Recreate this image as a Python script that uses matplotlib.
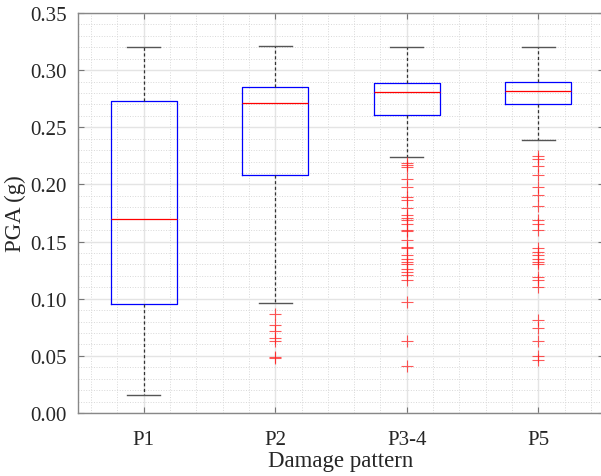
import numpy as np
import matplotlib.pyplot as plt
from matplotlib.ticker import MultipleLocator

plt.rcParams['font.family'] = ['Liberation Serif', 'DejaVu Serif']

# damage patterns and box statistics for PGA (g)
patterns = ['P1', 'P2', 'P3-4', 'P5']
whis_lo = [0.016, 0.096, 0.224, 0.239]
q1 = [0.095, 0.208, 0.261, 0.270]
med = [0.170, 0.271, 0.281, 0.282]
q3 = [0.273, 0.285, 0.289, 0.290]
whis_hi = [0.320, 0.321, 0.320, 0.320]

# outliers per pattern
fl_p1 = []
fl_p2 = [0.087, 0.077, 0.072, 0.066, 0.063, 0.049, 0.048]
fl_p34 = [0.219, 0.217, 0.215, 0.205, 0.198, 0.189, 0.186, 0.179, 0.173,
          0.171, 0.169, 0.165, 0.160, 0.159, 0.151, 0.145, 0.144, 0.138,
          0.135, 0.132, 0.130, 0.126, 0.123, 0.121, 0.116, 0.097, 0.063,
          0.041]
fl_p5 = [0.225, 0.222, 0.216, 0.208, 0.198, 0.191, 0.181, 0.169, 0.165,
         0.160, 0.144, 0.141, 0.138, 0.135, 0.132, 0.130, 0.119, 0.116,
         0.110, 0.081, 0.074, 0.063, 0.050, 0.046]
fliers = [fl_p1, fl_p2, fl_p34, fl_p5]

stats = []
for i in range(len(patterns)):
    stats.append(dict(med=med[i], q1=q1[i], q3=q3[i], whislo=whis_lo[i],
                      whishi=whis_hi[i], fliers=np.array(fliers[i]),
                      label=patterns[i]))

fig = plt.figure(figsize=(6.01, 4.77), dpi=100)
ax = fig.add_axes([78/601, 63/477, 526/601, 400/477])

ax.bxp(stats, positions=[1, 2, 3, 4], widths=0.5, showfliers=True,
       boxprops=dict(color='#0000ff', lw=0.9),
       medianprops=dict(color='#ff0000', lw=0.9),
       whiskerprops=dict(color='#333333', lw=0.9, ls=(0, (2.5, 2))),
       capprops=dict(color='#555555', lw=1.0),
       capwidths=0.25,
       flierprops=dict(marker='+', markeredgecolor='#ff2020', markersize=9,
                       markeredgewidth=0.8, alpha=0.75))

ax.set_xlim(0.5, 4.5)
ax.set_ylim(0, 0.35)
ax.yaxis.set_major_locator(MultipleLocator(0.05))
ax.yaxis.set_minor_locator(MultipleLocator(0.01))
ax.xaxis.set_minor_locator(MultipleLocator(0.2))
ax.set_yticklabels(['%.2f' % v for v in ax.get_yticks()])

ax.grid(True, which='major', color='#e4e4e4', lw=1.0)
ax.grid(True, which='minor', color='#d8d8d8', lw=0.7, ls=':')
ax.set_axisbelow(True)

ax.tick_params(which='major', direction='in', length=4, width=0.8,
               color='#777777', labelsize=15, labelcolor='#262626',
               top=True, right=True)
ax.tick_params(axis='x', pad=12)
ax.tick_params(axis='y', pad=8)
ax.tick_params(which='minor', length=0)
for s in ax.spines.values():
    s.set_color('#888888')
    s.set_linewidth(1.0)

ax.set_xlabel('Damage pattern', fontsize=16.5, color='#262626', labelpad=1)
ax.set_ylabel('PGA (g)', fontsize=16.5, color='#262626', labelpad=3)

fig.savefig('out.png', dpi=100)
